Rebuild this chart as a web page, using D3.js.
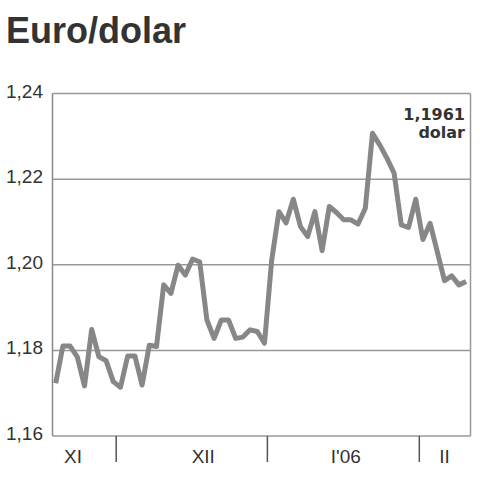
<!DOCTYPE html>
<html><head><meta charset="utf-8">
<script src="https://cdn.jsdelivr.net/npm/d3@7"></script>
<style>body{margin:0;background:#fff}</style>
</head><body>
<script>
// Data: daily EUR/USD rate, index = trading day
const values = [1.1723,1.1810,1.1810,1.1785,1.1717,1.1849,1.1785,1.1776,1.1727,1.1714,
1.1787,1.1787,1.1719,1.1812,1.1809,1.1953,1.1933,1.1999,1.1976,1.2013,
1.2007,1.1871,1.1828,1.1871,1.1871,1.1828,1.1831,1.1848,1.1844,1.1817,
1.2011,1.2124,1.2098,1.2153,1.2089,1.2066,1.2124,1.2033,1.2136,1.2122,
1.2105,1.2105,1.2095,1.2132,1.2307,1.2280,1.2249,1.2214,1.2093,1.2087,
1.2153,1.2059,1.2097,1.2030,1.1963,1.1974,1.1953,1.1961];
const yTicks = [1.16,1.18,1.20,1.22,1.24];
const monthBreaks = [8.4, 29.4, 50.5];          // month boundaries (in day index)
const monthLabels = ["XI","XII","I'06","II"];
const monthLabelPos = [2.4, 20.5, 40.3, 54.0];  // label centers (in day index)
const title = "Euro/dolar";
const lastLabel = ["1,1961","dolar"];

(function(){
const W=480,H=480;
const svg=d3.select("body").append("svg").attr("width",W).attr("height",H);
const pL=52.5,pR=470.5,pT=93.5,pB=436;
const x=d3.scaleLinear().domain([0,values.length-1]).range([55.7,466.1]);
const y=d3.scaleLinear().domain([1.16,1.24]).range([pB,pT]);
const fmt=v=>d3.format(".2f")(v).replace(".",",");

svg.append("text").attr("x",6).attr("y",43).text(title)
  .attr("font-family","Liberation Sans, Arial, sans-serif").attr("font-weight","bold")
  .attr("font-size",36).attr("fill","#333");

svg.append("g").selectAll("line").data(yTicks).join("line")
  .attr("x1",pL).attr("x2",pR).attr("y1",d=>y(d)).attr("y2",d=>y(d))
  .attr("stroke","#999").attr("stroke-width",1.5);
svg.append("line").attr("x1",pL).attr("x2",pL).attr("y1",pT).attr("y2",pB).attr("stroke","#888").attr("stroke-width",1.5);
svg.append("line").attr("x1",pR).attr("x2",pR).attr("y1",pT).attr("y2",pB).attr("stroke","#999").attr("stroke-width",1.5);

svg.append("g").selectAll("text").data(yTicks).join("text")
  .attr("x",43).attr("y",d=>y(d)+4).attr("text-anchor","end")
  .attr("font-family","Liberation Sans, Arial, sans-serif").attr("font-size",19).attr("fill","#333")
  .text(fmt);

svg.append("g").selectAll("line").data(monthBreaks).join("line")
  .attr("x1",d=>x(d)).attr("x2",d=>x(d)).attr("y1",pB).attr("y2",462)
  .attr("stroke","#555").attr("stroke-width",1.5);
svg.append("g").selectAll("text").data(monthLabels).join("text")
  .attr("x",(d,i)=>x(monthLabelPos[i])).attr("y",463).attr("text-anchor","middle")
  .attr("font-family","Liberation Sans, Arial, sans-serif").attr("font-size",19).attr("fill","#333")
  .text(d=>d);

svg.append("path").datum(values)
  .attr("d",d3.line().x((d,i)=>x(i)).y(d=>y(d)))
  .attr("fill","none").attr("stroke","#878787").attr("stroke-width",5).attr("stroke-linejoin","round");

svg.append("g").selectAll("text").data(lastLabel).join("text")
  .attr("x",465).attr("y",(d,i)=>120+i*18).attr("text-anchor","end")
  .attr("font-family","DejaVu Sans, sans-serif").attr("font-weight","bold")
  .attr("font-size",16).attr("fill","#333").text(d=>d);
})();
</script>
</body></html>
